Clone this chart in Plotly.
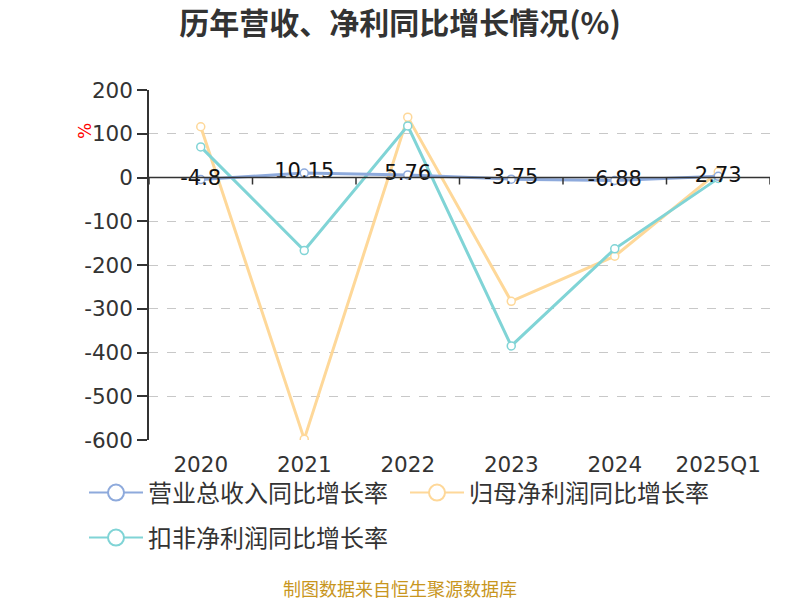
import plotly.graph_objects as go

categories = ["2020", "2021", "2022", "2023", "2024", "2025Q1"]
revenue_growth = [-4.8, 10.15, 5.76, -3.75, -6.88, 2.73]
parent_profit_growth = [116, -598, 138, -283, -180, 13]
deducted_profit_growth = [70, -167, 118, -385, -163, -2]
y_ticks = [200, 100, 0, -100, -200, -300, -400, -500, -600]
series_names = ["营业总收入同比增长率", "归母净利润同比增长率", "扣非净利润同比增长率"]

CJK = "Noto Sans CJK SC"
NUM = "DejaVu Sans"
BLUE = "#8eaadc"
ORANGE = "#fed899"
TEAL = "#80d4d6"
colors = [BLUE, ORANGE, TEAL]
series = [revenue_growth, parent_profit_growth, deducted_profit_growth]

xs = list(range(len(categories)))

fig = go.Figure()
# draw order: orange, teal, then blue (with labels) on top
for idx in [1, 2, 0]:
    c = colors[idx]
    if idx == 0:
        kw = dict(mode="lines+markers+text", text=[str(v) for v in revenue_growth],
                  textposition="middle center",
                  textfont=dict(family=NUM, size=21, color="#111111"))
    else:
        kw = dict(mode="lines+markers")
    fig.add_trace(go.Scatter(
        x=xs, y=series[idx], name=series_names[idx], showlegend=False,
        line=dict(color=c, width=3),
        marker=dict(symbol="circle", size=8, color="white", line=dict(color=c, width=1.5)),
        **kw,
    ))

# legend entries (one legend each for exact placement)
legend_names = ["legend", "legend2", "legend3"]
for idx in range(3):
    c = colors[idx]
    fig.add_trace(go.Scatter(
        x=[None], y=[None], name=series_names[idx], mode="lines+markers",
        line=dict(color=c, width=2),
        marker=dict(symbol="circle", size=16, color="white", line=dict(color=c, width=2)),
        legend=legend_names[idx], showlegend=True,
    ))

shapes = [dict(type="line", xref="x", yref="y", x0=-0.5, x1=len(categories) - 0.5, y0=0, y1=0,
               line=dict(color="#333333", width=1.5), layer="above")]
for i in range(len(categories) + 1):
    shapes.append(dict(type="line", xref="x", yref="y", ysizemode="pixel", yanchor=0,
                       x0=i - 0.5, x1=i - 0.5, y0=0, y1=-7,
                       line=dict(color="#333333", width=1.5), layer="above"))

leg_common = dict(orientation="h", xref="container", yref="container", xanchor="left",
                  yanchor="middle", font=dict(family=CJK, size=24, color="#333333"),
                  itemwidth=54, bgcolor="rgba(0,0,0,0)", borderwidth=0)

fig.update_layout(
    width=800, height=600,
    margin=dict(l=149, r=30, t=90, b=160, autoexpand=False),
    paper_bgcolor="white", plot_bgcolor="white",
    font=dict(family=CJK, color="#333333"),
    title=dict(text="<b>历年营收、净利同比增长情况(%)</b>", x=0.5, xanchor="center",
               y=1 - 23 / 600, yanchor="middle",
               font=dict(family=CJK, size=30, color="#333333")),
    xaxis=dict(range=[-0.5, len(categories) - 0.5], tickmode="array", tickvals=xs, ticktext=categories,
               showgrid=False, zeroline=False, showline=False, ticks="", automargin=False,
               ticklabelstandoff=9,
               tickfont=dict(family=NUM, size=21.5, color="#333333"), fixedrange=True),
    yaxis=dict(range=[-600, 200], tickmode="array", tickvals=y_ticks, automargin=False,
               ticktext=[str(v) for v in y_ticks], showgrid=True,
               gridcolor="#c8c8c8", griddash="dash", gridwidth=1.2, zeroline=False,
               showline=True, linecolor="#333333", linewidth=1.5, ticks="outside", ticklen=10,
               tickcolor="#333333", tickwidth=1.5,
               tickfont=dict(family=NUM, size=21.5, color="#333333")),
    shapes=shapes,
    showlegend=True,
    legend=dict(x=84 / 800, y=1 - 493 / 600, **leg_common),
    legend2=dict(x=405 / 800, y=1 - 493 / 600, **leg_common),
    legend3=dict(x=84 / 800, y=1 - 538 / 600, **leg_common),
    annotations=[
        dict(text="%", xref="paper", yref="paper", x=(85 - 149) / 621, y=(440 - 131) / 350,
             xanchor="center", yanchor="middle", showarrow=False,
             textangle=-90, font=dict(family=NUM, size=17, color="red")),
        dict(text="制图数据来自恒生聚源数据库", xref="paper", yref="paper",
             x=(400 - 149) / 621, y=(440 - 588) / 350,
             xanchor="center", yanchor="middle", showarrow=False,
             font=dict(family=CJK, size=18, color="#c8961e")),
    ],
)

fig.write_html("out.html", config={"displayModeBar": False},
               post_script="document.body.style.margin='0';")
